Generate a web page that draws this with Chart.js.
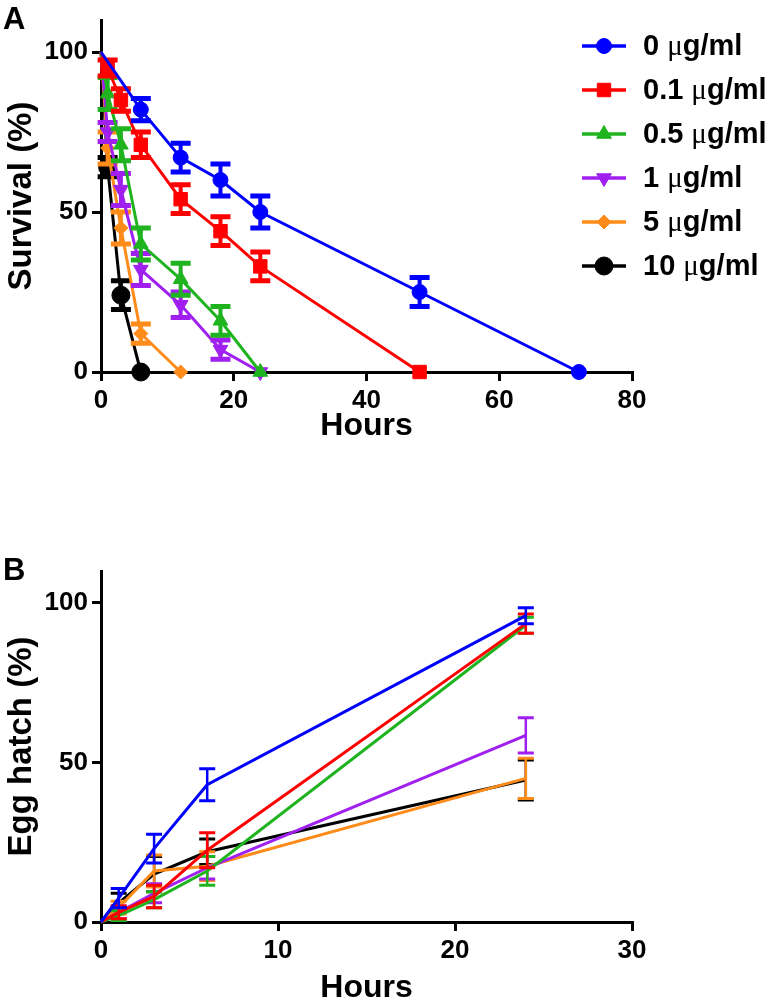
<!DOCTYPE html>
<html>
<head>
<meta charset="utf-8">
<script src="https://cdn.jsdelivr.net/npm/chart.js@4.4.0/dist/chart.umd.min.js"></script>
<style>
  body { margin: 0; background: #fff; font-family: "Liberation Sans", Arial, sans-serif; }
  .panel { position: absolute; left: 0; width: 766px; }
  .letter { position: absolute; left: 3px; font-weight: bold; font-size: 31px; line-height: 1; color: #000; }
</style>
</head>
<body>
<div class="panel" style="top:0;height:500px"><canvas id="survival"></canvas></div>
<div class="panel" style="top:500px;height:504px"><canvas id="hatch"></canvas></div>
<div class="letter" style="top:3px">A</div>
<div class="letter" style="top:554px">B</div>
<script>
const doseLabels = ["0 μg/ml", "0.1 μg/ml", "0.5 μg/ml", "1 μg/ml", "5 μg/ml", "10 μg/ml"];

// panel A: survival (%) against hours, one list per dose
const survHours = [
  [0, 6, 12, 18, 24, 48, 72],
  [0, 1, 3, 6, 12, 18, 24, 48],
  [0, 1, 3, 6, 12, 18, 24],
  [0, 1, 3, 6, 12, 18, 24],
  [0, 1, 3, 6, 12],
  [0, 1, 3, 6]
];
const survMean = [
  [100, 82, 67, 60, 50, 25, 0],
  [100, 95, 85, 71, 54, 44, 33, 0],
  [100, 87, 71, 40, 29, 16, 0],
  [100, 75, 57, 32, 21, 7, 0],
  [100, 70, 45, 12, 0],
  [100, 64, 24, 0]
];
const survErr = [
  [0, 3.5, 4.5, 5, 5, 4.5, 0],
  [0, 2.5, 3.5, 4, 4.5, 4.5, 4.5, 0],
  [0, 5, 5, 5, 5, 4.5, 0],
  [0, 3, 5, 5, 4, 3, 0],
  [0, 5, 5, 3, 0],
  [0, 3, 4.5, 0]
];
const survXTicks = [0, 20, 40, 60, 80];
const survYTicks = [0, 50, 100];

// panel B: egg hatch (%) against hours
const hatchHours = [0, 1, 3, 6, 24];
const hatchMean = [
  [0, 7.5, 23, 43, 96],
  [0, 3, 8, 22.5, 93.5],
  [0, 2, 7, 16, 93],
  [0, 3, 9, 17, 58.5],
  [0, 4.5, 16, 17.5, 45],
  [0, 6, 15, 22, 44.5]
];
const hatchErr = [
  [0, 3, 4.5, 5, 2.5],
  [0, 2, 3.5, 5.5, 3],
  [0, 1.5, 2.5, 4.5, 2.5],
  [0, 2, 3, 3.5, 5.5],
  [0, 2, 5, 4.5, 6.3],
  [0, 3, 5.5, 4, 6.3]
];
const hatchXTicks = [0, 10, 20, 30];
const hatchYTicks = [0, 50, 100];

// styles
const colors = ["#0000ff", "#ff0000", "#1fb41f", "#a020f0", "#ff8c1a", "#000000"];
const markers = ["circle", "rect", "triangle", "triangle", "rectRot", "circle"];
const markerRot = [0, 0, 0, 180, 0, 0];
const markerSize = [7.5, 9.5, 8.5, 8.5, 7, 9];
const sans = '"Liberation Sans", Arial, sans-serif';

const errorBars = {
  id: "errorBars",
  afterDatasetDraw(chart, args, opts) {
    const ds = chart.data.datasets[args.index];
    if (!ds.errors) return;
    const { ctx, scales: { x, y } } = chart;
    ctx.save();
    ctx.strokeStyle = ds.borderColor;
    ds.data.forEach((p, i) => {
      const e = ds.errors[i];
      if (!e) return;
      const px = x.getPixelForValue(p.x);
      const top = y.getPixelForValue(p.y + e);
      const bot = y.getPixelForValue(p.y - e);
      ctx.lineWidth = opts.stem;
      ctx.beginPath();
      ctx.moveTo(px, top);
      ctx.lineTo(px, bot);
      ctx.stroke();
      ctx.lineWidth = opts.capWidth;
      ctx.beginPath();
      ctx.moveTo(px - opts.cap, top);
      ctx.lineTo(px + opts.cap, top);
      ctx.moveTo(px - opts.cap, bot);
      ctx.lineTo(px + opts.cap, bot);
      ctx.stroke();
    });
    ctx.restore();
  }
};

function drawDoseLabel(ctx, label, x, y, size) {
  const [num, unit] = label.split("μ");
  ctx.textBaseline = "middle";
  ctx.fillStyle = "#000";
  ctx.font = `bold ${size}px ${sans}`;
  ctx.fillText(num, x, y);
  x += ctx.measureText(num).width;
  ctx.font = `${size}px "Liberation Serif"`;
  ctx.fillText("μ", x, y);
  x += ctx.measureText("μ").width;
  ctx.font = `bold ${size}px ${sans}`;
  ctx.fillText(unit, x, y);
}

const sideLegend = {
  id: "sideLegend",
  afterDraw(chart, args, opts) {
    const ctx = chart.ctx;
    chart.data.datasets.forEach((ds, i) => {
      const y = opts.top + i * opts.gap;
      const mid = opts.left + 22;
      ctx.save();
      ctx.strokeStyle = ds.borderColor;
      ctx.fillStyle = ds.borderColor;
      ctx.lineWidth = 3.5;
      ctx.beginPath();
      ctx.moveTo(opts.left, y);
      ctx.lineTo(opts.left + 44, y);
      ctx.stroke();
      if (opts.marker) {
        ctx.lineWidth = 1;
        Chart.helpers.drawPoint(ctx, {
          pointStyle: ds.pointStyle,
          rotation: ds.pointRotation,
          radius: ds.legendRadius,
          borderWidth: 1
        }, mid, y);
      } else {
        ctx.lineWidth = 2;
        ctx.beginPath();
        ctx.moveTo(mid, y - 6);
        ctx.lineTo(mid, y);
        ctx.stroke();
      }
      ctx.restore();
      drawDoseLabel(ctx, ds.label, opts.text, y + 1, 29);
    });
  }
};

function axisOpts(min, max, tickList, size, title, titlePad) {
  return {
    type: "linear",
    min: min,
    max: max,
    afterBuildTicks: s => { s.ticks = tickList.map(v => ({ value: v })); },
    border: { display: true, color: "#000", width: 3 },
    grid: { display: true, drawOnChartArea: false, drawTicks: true, tickLength: 9, color: "#000", lineWidth: 3 },
    ticks: { color: "#000", font: { family: sans, size: 26, weight: "bold" }, padding: 4, maxRotation: 0 },
    title: { display: true, text: title, color: "#000", font: { family: sans, size: size, weight: "bold", lineHeight: 1 }, padding: titlePad }
  };
}

// panel A
const survSets = doseLabels.map((label, i) => ({
  label: label,
  data: survHours[i].map((h, j) => ({ x: h, y: survMean[i][j] })),
  errors: survErr[i],
  borderColor: colors[i],
  backgroundColor: colors[i],
  borderWidth: 3,
  pointStyle: markers[i],
  pointRotation: markerRot[i],
  pointRadius: survHours[i].map(h => (h === 0 ? 0 : markerSize[i])),
  pointBorderWidth: 1,
  legendRadius: markerSize[i],
  tension: 0,
  clip: false
}));

const survX = axisOpts(0, 80, survXTicks, 32, "Hours", { top: 0, bottom: 58 });
survX.afterFit = s => { s.height = 128; };
const survY = axisOpts(0, 110, survYTicks, 33, "Survival (%)", { top: 5, bottom: 0 });
survY.afterFit = s => { s.width = 101; };

new Chart(document.getElementById("survival"), {
  type: "line",
  data: { datasets: survSets },
  options: {
    responsive: true,
    maintainAspectRatio: false,
    animation: false,
    layout: { padding: { top: 20, right: 134, left: 0, bottom: 0 } },
    plugins: {
      legend: { display: false },
      tooltip: { enabled: false },
      errorBars: { stem: 4, cap: 10, capWidth: 5 },
      sideLegend: { left: 582, top: 46, gap: 44, text: 643, marker: true }
    },
    scales: { x: survX, y: survY }
  },
  plugins: [errorBars, sideLegend]
});

// panel B
const hatchSets = doseLabels.map((label, i) => ({
  label: label,
  data: hatchHours.map((h, j) => ({ x: h, y: hatchMean[i][j] })),
  errors: hatchErr[i],
  borderColor: colors[i],
  backgroundColor: colors[i],
  borderWidth: 3,
  pointRadius: 0,
  tension: 0,
  clip: false
}));

const hatchX = axisOpts(0, 30, hatchXTicks, 32, "Hours", { top: 0, bottom: 0 });
hatchX.afterFit = s => { s.height = 82; };
const hatchY = axisOpts(0, 110, hatchYTicks, 33, "Egg hatch (%)", { top: 5, bottom: 0 });
hatchY.afterFit = s => { s.width = 101; };

new Chart(document.getElementById("hatch"), {
  type: "line",
  data: { datasets: hatchSets },
  options: {
    responsive: true,
    maintainAspectRatio: false,
    animation: false,
    layout: { padding: { top: 71, right: 134, left: 0, bottom: 0 } },
    plugins: {
      legend: { display: false },
      tooltip: { enabled: false },
      errorBars: { stem: 2.5, cap: 8, capWidth: 3 },
      sideLegend: { left: 582, top: 595, gap: 44.2, text: 643, marker: false }
    },
    scales: { x: hatchX, y: hatchY }
  },
  plugins: [errorBars, sideLegend]
});
</script>
</body>
</html>
